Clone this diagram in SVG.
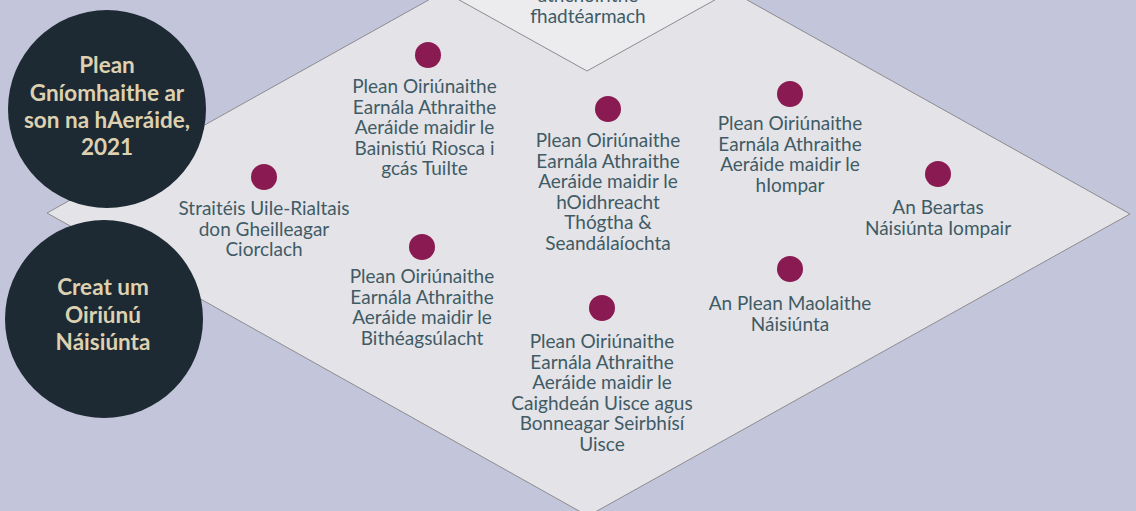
<svg xmlns="http://www.w3.org/2000/svg" width="1136" height="511" viewBox="0 0 1136 511">
<style>
.bg{fill:#c3c6da}
.shape{stroke:#8c8c90;stroke-width:1}
.dot{fill:#8a1a52}
.lbl{font-family:Lato,"Open Sans","Liberation Sans",sans-serif;font-size:19px;fill:#3f5b65;text-anchor:middle}
.hub{fill:#1e2a33}
.hubt{font-family:Lato,"Open Sans","Liberation Sans",sans-serif;font-size:22.5px;font-weight:bold;fill:#ddd1b1;text-anchor:middle}
</style>
<rect class="bg" x="0" y="0" width="1136" height="511"/>
<g id="big-diamond">
<polygon class="shape" fill="#e4e3e8" points="47,213 588,-89 1130,214 588,516"/>
</g>
<g id="top-diamond">
<polygon class="shape" fill="#ececef" points="337,-68 587,-207 837,-68 587,71"/>
<text class="lbl"><tspan x="588" y="2">athchóirithe</tspan><tspan x="588" y="22.5">fhadtéarmach</tspan></text>
</g>
<g id="node-tuilte">
<circle class="dot" cx="428" cy="55" r="13"/>
<text class="lbl"><tspan x="424.5" y="93">Plean Oiriúnaithe</tspan><tspan x="424.5" y="113.5">Earnála Athraithe</tspan><tspan x="424.5" y="134">Aeráide maidir le</tspan><tspan x="424.5" y="154.5">Bainistiú Riosca i</tspan><tspan x="424.5" y="175">gcás Tuilte</tspan></text>
</g>
<g id="node-oidhreacht">
<circle class="dot" cx="608" cy="109" r="13"/>
<text class="lbl"><tspan x="608" y="147">Plean Oiriúnaithe</tspan><tspan x="608" y="167.5">Earnála Athraithe</tspan><tspan x="608" y="188">Aeráide maidir le</tspan><tspan x="608" y="208.5">hOidhreacht</tspan><tspan x="608" y="229">Thógtha &amp;</tspan><tspan x="608" y="249.5">Seandálaíochta</tspan></text>
</g>
<g id="node-ciorclach">
<circle class="dot" cx="264" cy="177" r="13"/>
<text class="lbl"><tspan x="264" y="215">Straitéis Uile-Rialtais</tspan><tspan x="264" y="235.5">don Gheilleagar</tspan><tspan x="264" y="256">Ciorclach</tspan></text>
</g>
<g id="node-bitheagsulacht">
<circle class="dot" cx="422" cy="247" r="13"/>
<text class="lbl"><tspan x="422" y="283">Plean Oiriúnaithe</tspan><tspan x="422" y="303.5">Earnála Athraithe</tspan><tspan x="422" y="324">Aeráide maidir le</tspan><tspan x="422" y="344.5">Bithéagsúlacht</tspan></text>
</g>
<g id="node-uisce">
<circle class="dot" cx="602" cy="308" r="13"/>
<text class="lbl"><tspan x="602" y="348">Plean Oiriúnaithe</tspan><tspan x="602" y="368.5">Earnála Athraithe</tspan><tspan x="602" y="389">Aeráide maidir le</tspan><tspan x="602" y="409.5">Caighdeán Uisce agus</tspan><tspan x="602" y="430">Bonneagar Seirbhísí</tspan><tspan x="602" y="450.5">Uisce</tspan></text>
</g>
<g id="node-iompar">
<circle class="dot" cx="790" cy="94" r="13"/>
<text class="lbl"><tspan x="790" y="130">Plean Oiriúnaithe</tspan><tspan x="790" y="150.5">Earnála Athraithe</tspan><tspan x="790" y="171">Aeráide maidir le</tspan><tspan x="790" y="191.5">hIompar</tspan></text>
</g>
<g id="node-beartas">
<circle class="dot" cx="938" cy="174" r="13"/>
<text class="lbl"><tspan x="938" y="214">An Beartas</tspan><tspan x="938" y="234.5">Náisiúnta Iompair</tspan></text>
</g>
<g id="node-maolaithe">
<circle class="dot" cx="790" cy="269" r="13"/>
<text class="lbl"><tspan x="790" y="310">An Plean Maolaithe</tspan><tspan x="790" y="330.5">Náisiúnta</tspan></text>
</g>
<g id="hub-plean">
<circle class="hub" cx="107" cy="109" r="99"/>
<text class="hubt"><tspan x="107" y="73">Plean</tspan><tspan x="107" y="100.5">Gníomhaithe ar</tspan><tspan x="107" y="128">son na hAeráide,</tspan><tspan x="107" y="155">2021</tspan></text>
</g>
<g id="hub-creat">
<circle class="hub" cx="104" cy="319" r="99"/>
<text class="hubt"><tspan x="103" y="295">Creat um</tspan><tspan x="103" y="322.5">Oiriúnú</tspan><tspan x="103" y="350">Náisiúnta</tspan></text>
</g>
</svg>
